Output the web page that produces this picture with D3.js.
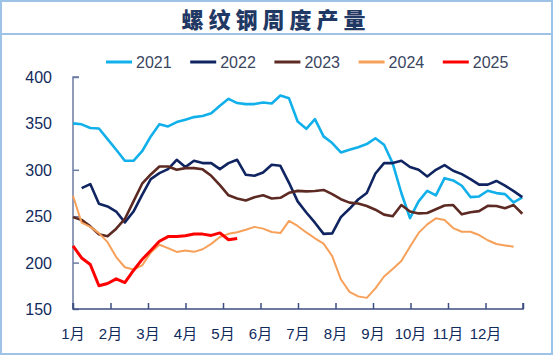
<!DOCTYPE html>
<html><head><meta charset="utf-8">
<script src="https://cdn.jsdelivr.net/npm/d3@7"></script>
<style>
html,body{margin:0;padding:0;background:#fff;}
svg{display:block;}
</style></head>
<body>
<svg id="chart" width="553" height="355"></svg>
<script>
const title = "螺纹钢周度产量";
const monthLabels = ["1月","2月","3月","4月","5月","6月","7月","8月","9月","10月","11月","12月"];
const yTicks = [150, 200, 250, 300, 350, 400];
const seriesNames = ["2021","2022","2023","2024","2025"];
const seriesColors = ["#12b0ea","#0f2461","#5c2a22","#f7a05a","#ff0000"];

const v2021 = [350,349,345,344.5,333,321.6,309.7,309.7,320,336,349,346.7,351.4,354,356.8,358,361,369,376.5,371.9,370.8,370.8,372.6,371.5,380,377,352,344.2,354.6,336,328.8,318.7,321.6,324.4,327.7,334,327,307,275,248,266,277.4,272.4,291,288.5,282.8,270.6,271.3,277.4,274.9,273.8,264.8,270.2];
const v2022 = [null,280.3,284.6,263.4,260.5,255,243.3,255,273,290,296.4,300.7,310.8,302.9,309.7,307.2,307.2,300.7,307.2,310.8,294.6,293.6,297.1,305.4,304.3,286,266,254,243,231,231.5,249,258,268,275,296,307.2,307.2,309.7,303,300,292.8,300,305,299,295.3,290,284,284,288,283,277,270.6];
const v2023 = [249,246,239,230.5,228.5,236.5,247,266,285,295,303.6,303.6,300,301.8,301.8,300.5,293.5,283.5,272.5,269,267,270.5,272.5,269,269.8,275.2,277.3,276.8,277.2,278.3,273.7,268.3,264.6,263.6,261,257,251.7,249.9,262,255,253,253.5,257.5,261.5,262,252,254.3,255.5,261.2,261,258.5,262,252.6];
const v2024 = [272,243,238.5,231.8,222,206,195,192.5,197,210.8,219.2,215.6,211.5,213,211.6,214.4,220.2,227.6,231,232.7,235.4,238.5,236.6,233,231.8,245,239.5,232.5,226.2,220.5,207,182,168.5,163.6,162,172.3,185,193,201.8,217,232,241.2,247.7,246,237.2,233.2,233.2,229.7,224.1,220,218.5,217.2];
const v2025 = [218,205,198,175,177.5,182.5,178.5,191.5,203.4,213,223,228,228,228.9,230.8,230.7,229.3,232,224.6,226];
const allSeries = [v2021, v2022, v2023, v2024, v2025];

const svg = d3.select("#chart");
const W = 553, H = 355;
const pL = 73, pR = 523, pT = 77, pB = 309;

// outer frame and title box
svg.append("rect").attr("x",1).attr("y",1).attr("width",W-2).attr("height",H-2)
  .attr("fill","#fff").attr("stroke","#9dc3e6").attr("stroke-width",2);
svg.append("line").attr("x1",1).attr("x2",W-1).attr("y1",34).attr("y2",34)
  .attr("stroke","#9dc3e6").attr("stroke-width",2);
svg.append("text").attr("x",276).attr("y",28).attr("text-anchor","middle")
  .attr("font-family","'Noto Sans CJK SC', sans-serif").attr("font-weight",900)
  .attr("font-size",22).attr("letter-spacing",5).attr("fill","#1f3864").text(title);

const x = d3.scaleLinear().domain([0, 12]).range([pL, pR]);
const xWeek = d3.scaleLinear().domain([0, 52]).range([pL, 522.3]);
const y = d3.scaleLinear().domain([150, 400]).range([pB, pT]);

// axes
const axisColor = "#6b7ba3";
const yAxis = d3.axisRight(y).tickValues(yTicks).tickSize(6).tickFormat("");
const gy = svg.append("g").attr("transform",`translate(${pL},0)`).call(yAxis);
gy.select(".domain").attr("stroke",axisColor).attr("stroke-width",1.5).attr("d",`M6,${pT}H0V${pB}`);
gy.selectAll(".tick line").attr("stroke",axisColor).attr("stroke-width",1.5);
svg.append("g").selectAll("text").data(yTicks).join("text")
  .attr("x",52).attr("y",d=>y(d)+6).attr("text-anchor","end")
  .attr("font-family","'Liberation Sans', Arial, sans-serif").attr("font-size",16)
  .attr("fill","#102a5c").text(d=>d);

const xAxis = d3.axisTop(x).tickValues(d3.range(0,13)).tickSize(6).tickFormat("");
const gx = svg.append("g").attr("transform",`translate(0,${pB})`).call(xAxis);
gx.select(".domain").attr("stroke","#3d4f80").attr("stroke-width",1.5).attr("d",`M${pL},-6V0H${pR}V-6`);
gx.selectAll(".tick line").attr("stroke","#3d4f80").attr("stroke-width",1.5);
svg.append("g").selectAll("text").data(monthLabels).join("text")
  .attr("x",(d,i)=>x(i)).attr("y",339).attr("text-anchor","middle")
  .attr("font-family","'Liberation Sans', 'Noto Sans CJK SC', sans-serif").attr("font-size",15)
  .attr("fill","#102a5c").text(d=>d);

// lines
const line = d3.line().defined(d=>d!=null).x((d,i)=>xWeek(i)).y(d=>y(d));
const widths = [2.6,2.6,2.6,2,3];
allSeries.forEach((vals,k)=>{
  svg.append("path").datum(vals).attr("d",line).attr("fill","none")
    .attr("stroke",seriesColors[k]).attr("stroke-width",widths[k]).attr("stroke-linejoin","round");
});

// legend
const lg = svg.append("g");
seriesNames.forEach((n,k)=>{
  const lx = 106 + k*84.2;
  lg.append("line").attr("x1",lx).attr("x2",lx+26).attr("y1",62).attr("y2",62)
    .attr("stroke",seriesColors[k]).attr("stroke-width",3);
  lg.append("text").attr("x",lx+30).attr("y",67.5)
    .attr("font-family","'Liberation Sans', Arial, sans-serif").attr("font-size",16)
    .attr("fill","#3a4660").text(n);
});
</script>
</body></html>
